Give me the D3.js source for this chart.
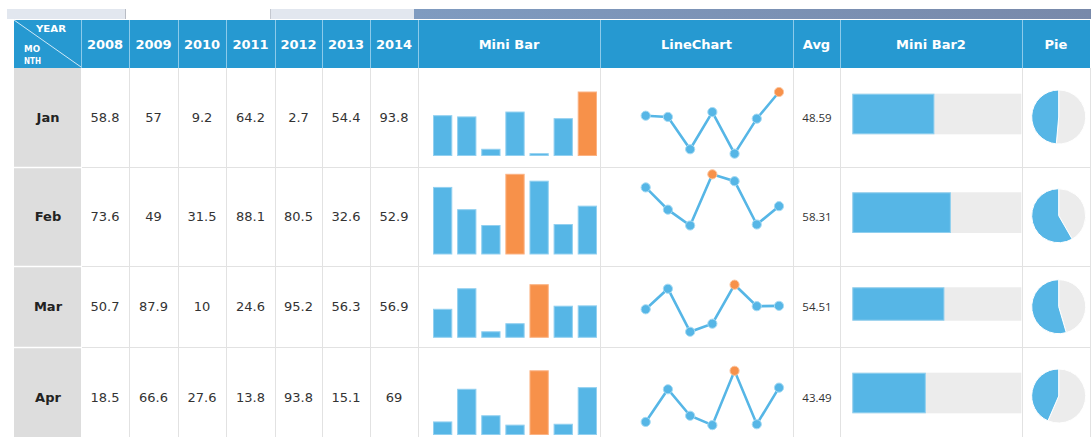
<!DOCTYPE html>
<html>
<head>
<meta charset="utf-8">
<script src="https://cdn.jsdelivr.net/npm/d3@7"></script>
<style>
html,body{margin:0;padding:0;background:#fff;}
svg{display:block;}
</style>
</head>
<body>
<svg id="chart" width="1091" height="437"></svg>
<script>
// ---- data ----
const months = ["Jan", "Feb", "Mar", "Apr"];
const years = ["2008", "2009", "2010", "2011", "2012", "2013", "2014"];
const jan = [58.8, 57, 9.2, 64.2, 2.7, 54.4, 93.8];
const feb = [73.6, 49, 31.5, 88.1, 80.5, 32.6, 52.9];
const mar = [50.7, 87.9, 10, 24.6, 95.2, 56.3, 56.9];
const apr = [18.5, 66.6, 27.6, 13.8, 93.8, 15.1, 69];
const extraHeaders = ["Mini Bar", "LineChart", "Avg", "Mini Bar2", "Pie"];
const series = [jan, feb, mar, apr];

// ---- layout ----
const colEdges = [14, 81, 129, 178, 226, 275, 322, 370, 418, 600, 793, 840, 1022, 1090];
const rowEdges = [20, 68, 167, 266, 347, 448];
const chartBox = [[92, 155.5], [174.3, 254], [284.7, 337.3], [370.8, 434.5]];
const bar2Box = [[93.7, 134.3], [192.3, 233], [287.3, 320.7], [372.7, 413.3]];
const pieCy = [117, 215.7, 306.7, 396];

const BLUE = "#56b6e6", ORANGE = "#f7914a", HEAD = "#2699d1", GRAYBG = "#ececec";
const svg = d3.select("#chart");

// top toolbar
svg.append("rect").attr("x", 7).attr("y", 9).attr("width", 118).attr("height", 10).attr("fill", "#e2e7ef");
svg.append("rect").attr("x", 125).attr("y", 9).attr("width", 1).attr("height", 10).attr("fill", "#b8bcc4");
svg.append("rect").attr("x", 270).attr("y", 9).attr("width", 144).attr("height", 10).attr("fill", "#e2e7ef");
svg.append("rect").attr("x", 270).attr("y", 9).attr("width", 1).attr("height", 10).attr("fill", "#c4c8d0");
const grad = svg.append("defs").append("linearGradient").attr("id", "tb");
grad.append("stop").attr("offset", "0%").attr("stop-color", "#7f9bc0");
grad.append("stop").attr("offset", "100%").attr("stop-color", "#7889aa");
svg.append("rect").attr("x", 414).attr("y", 9).attr("width", 677).attr("height", 10).attr("fill", "url(#tb)");

const tableLeft = colEdges[0], tableRight = colEdges[colEdges.length - 1];

// header
svg.append("rect").attr("x", tableLeft).attr("y", rowEdges[0]).attr("width", tableRight - tableLeft)
  .attr("height", rowEdges[1] - rowEdges[0]).attr("fill", HEAD);
const headerLabels = years.concat(extraHeaders);
headerLabels.forEach((h, i) => {
  const x0 = colEdges[i + 1], x1 = colEdges[i + 2];
  svg.append("text").attr("x", (x0 + x1) / 2).attr("y", (rowEdges[0] + rowEdges[1]) / 2 + 1)
    .attr("text-anchor", "middle").attr("dominant-baseline", "middle")
    .attr("font-family", "DejaVu Sans").attr("font-weight", "bold").attr("font-size", 13)
    .attr("fill", "#fff").text(h);
});
colEdges.slice(1, -1).forEach(x => {
  svg.append("line").attr("x1", x + 0.5).attr("x2", x + 0.5).attr("y1", rowEdges[0]).attr("y2", rowEdges[1])
    .attr("stroke", "#8ccaea").attr("stroke-width", 1);
});
// corner cell
svg.append("line").attr("x1", colEdges[0]).attr("y1", rowEdges[0]).attr("x2", colEdges[1]).attr("y2", rowEdges[1] - 1)
  .attr("stroke", "#cfe9f7").attr("stroke-width", 1);
const cornerTxt = [["YEAR", 36, 31.7, 30], ["MO", 24, 51.7, 16], ["NTH", 24, 64.3, 17]];
cornerTxt.forEach(([t, x, y, w]) => {
  svg.append("text").attr("x", x).attr("y", y).attr("font-family", "DejaVu Sans").attr("font-weight", "bold")
    .attr("font-size", t === "YEAR" ? 9 : 8.5).attr("textLength", w).attr("lengthAdjust", "spacingAndGlyphs")
    .attr("fill", "#fff").text(t);
});

// body
const bodyTop = rowEdges[1], bodyBottom = rowEdges[rowEdges.length - 1];
svg.append("rect").attr("x", colEdges[1]).attr("y", bodyTop).attr("width", tableRight - colEdges[1])
  .attr("height", bodyBottom - bodyTop).attr("fill", "#fff");

months.forEach((m, r) => {
  const y0 = rowEdges[r + 1], y1 = rowEdges[r + 2], cy = (y0 + y1) / 2;
  const vals = series[r];
  // month cell
  svg.append("rect").attr("x", colEdges[0]).attr("y", y0).attr("width", colEdges[1] - colEdges[0])
    .attr("height", y1 - y0).attr("fill", "#dddddd");
  svg.append("text").attr("x", (colEdges[0] + colEdges[1]) / 2 + 0.5).attr("y", cy + 1)
    .attr("text-anchor", "middle").attr("dominant-baseline", "middle")
    .attr("font-family", "DejaVu Sans").attr("font-weight", "bold").attr("font-size", 13)
    .attr("fill", "#222").text(m);
  // values
  vals.forEach((v, i) => {
    svg.append("text").attr("x", (colEdges[i + 1] + colEdges[i + 2]) / 2).attr("y", cy + 1)
      .attr("text-anchor", "middle").attr("dominant-baseline", "middle")
      .attr("font-family", "DejaVu Sans").attr("font-size", 13).attr("fill", "#333").text(v);
  });
  const maxV = d3.max(vals), maxI = vals.indexOf(maxV);
  const [cTop, cBot] = chartBox[r];
  const y = d3.scaleLinear().domain([0, maxV]).range([cBot, cTop]);

  // mini bar
  const xb = d3.scaleBand().domain(d3.range(vals.length)).range([433, 597]).paddingInner(0.2);
  svg.append("g").selectAll("rect").data(vals).join("rect")
    .attr("x", (d, i) => xb(i) + 0.5).attr("width", xb.bandwidth() - 1)
    .attr("y", d => y(d)).attr("height", d => Math.max(1.5, cBot - y(d)))
    .attr("fill", (d, i) => i === maxI ? ORANGE : BLUE)
    .attr("stroke", (d, i) => i === maxI ? "#fbb283" : "#92d0f0").attr("stroke-width", 1);

  // line chart
  const xl = d3.scalePoint().domain(d3.range(vals.length)).range([645.7, 779]);
  const line = d3.line().x((d, i) => xl(i)).y(d => y(d));
  svg.append("path").datum(vals).attr("d", line).attr("fill", "none")
    .attr("stroke", BLUE).attr("stroke-width", 2.6);
  svg.append("g").selectAll("circle").data(vals).join("circle")
    .attr("cx", (d, i) => xl(i)).attr("cy", d => y(d)).attr("r", 4.6)
    .attr("fill", (d, i) => i === maxI ? ORANGE : BLUE)
    .attr("stroke", (d, i) => i === maxI ? "#fcc49d" : "#a6dbf4").attr("stroke-width", 1);

  // avg
  const avg = d3.mean(vals);
  svg.append("text").attr("x", (colEdges[10] + colEdges[11]) / 2 + 0.5).attr("y", cy + 1)
    .attr("text-anchor", "middle").attr("dominant-baseline", "middle")
    .attr("font-family", "Open Sans").attr("font-size", 11.5).attr("fill", "#333").text(avg.toFixed(2));

  // mini bar 2
  const [bT, bB] = bar2Box[r];
  const xs = d3.scaleLinear().domain([0, 100]).range([852.3, 1021.3]);
  svg.append("rect").attr("x", xs(0)).attr("y", bT).attr("width", xs(100) - xs(0)).attr("height", bB - bT)
    .attr("fill", GRAYBG);
  svg.append("rect").attr("x", xs(0) + 0.5).attr("y", bT + 0.5).attr("width", xs(avg) - xs(0) - 1)
    .attr("height", bB - bT - 1).attr("fill", BLUE).attr("stroke", "#8fcfef").attr("stroke-width", 1);

  // pie
  const p = avg / 100;
  const arc = d3.arc().innerRadius(0).outerRadius(27);
  const pg = svg.append("g").attr("transform", `translate(1058.7,${pieCy[r]})`);
  pg.append("path").attr("d", arc({startAngle: 0, endAngle: 2 * Math.PI * (1 - p)}))
    .attr("fill", GRAYBG).attr("stroke", "#fff").attr("stroke-width", 1);
  pg.append("path").attr("d", arc({startAngle: -2 * Math.PI * p, endAngle: 0}))
    .attr("fill", BLUE).attr("stroke", "#fff").attr("stroke-width", 1);
});

// grid lines in body
rowEdges.slice(2, -1).forEach(yy => {
  svg.append("line").attr("x1", colEdges[1]).attr("x2", tableRight).attr("y1", yy + 0.5).attr("y2", yy + 0.5)
    .attr("stroke", "#e2e2e2");
  svg.append("line").attr("x1", colEdges[0]).attr("x2", colEdges[1]).attr("y1", yy + 0.5).attr("y2", yy + 0.5)
    .attr("stroke", "#fff").attr("stroke-width", 1.5);
});
colEdges.slice(1).forEach(x => {
  svg.append("line").attr("x1", x + 0.5).attr("x2", x + 0.5).attr("y1", bodyTop).attr("y2", bodyBottom)
    .attr("stroke", x === colEdges[1] ? "#ffffff" : "#e2e2e2").attr("stroke-width", 1);
});
</script>
</body>
</html>
